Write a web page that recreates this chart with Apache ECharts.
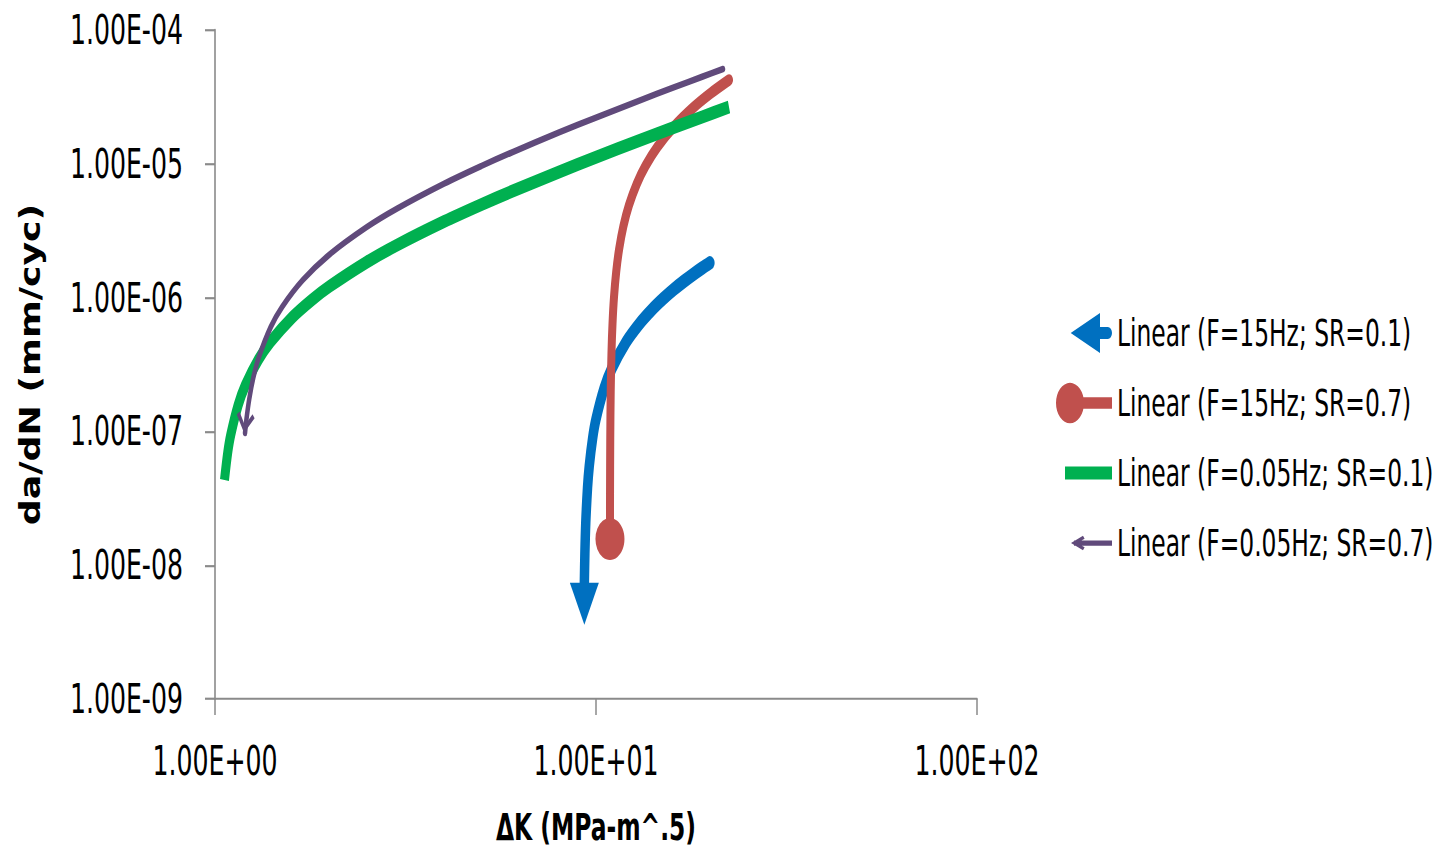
<!DOCTYPE html>
<html>
<head>
<meta charset="utf-8">
<title>da/dN vs ΔK</title>
<script src="https://cdn.jsdelivr.net/npm/echarts@6/dist/echarts.min.js"></script>
<style>
  html, body { margin: 0; padding: 0; background: #ffffff; overflow: hidden; }
  #wrap { width: 1436px; height: 850px; overflow: hidden; }
  /* the plot is laid out on a shorter canvas and stretched vertically */
  #chart { width: 1436px; height: 590px; transform-origin: 0 0; }
</style>
</head>
<body>
<div id="wrap"><div id="chart"></div></div>
<script>
// Crack growth rate curves (linear fits), log-log axes
const seriesNames = [
  'Linear (F=15Hz; SR=0.1)',
  'Linear (F=15Hz; SR=0.7)',
  'Linear (F=0.05Hz; SR=0.1)',
  'Linear (F=0.05Hz; SR=0.7)'
];

const dK_F15_SR01 = [9.32, 9.35, 9.4, 9.5, 9.6, 9.8, 10, 10.5, 11, 12, 13, 14, 15, 16, 17, 18, 19, 19.9];
const dadN_F15_SR01 = [7.4e-9, 1.22e-8, 2.07e-8, 3.78e-8, 5.50e-8, 8.92e-8, 1.234e-7, 2.09e-7, 2.95e-7, 4.66e-7, 6.37e-7, 8.08e-7, 9.79e-7, 1.151e-6, 1.322e-6, 1.493e-6, 1.664e-6, 1.818e-6];

const dK_F15_SR07 = [10.88, 10.885, 10.9, 10.93, 10.98, 11.05, 11.15, 11.3, 11.5, 11.8, 12.2, 12.8, 13.5, 14.5, 16, 18, 20, 22.34];
const dadN_F15_SR07 = [1.57e-8, 3.42e-8, 8.95e-8, 2.00e-7, 3.85e-7, 6.43e-7, 1.012e-6, 1.566e-6, 2.303e-6, 3.411e-6, 4.886e-6, 7.10e-6, 9.68e-6, 1.337e-5, 1.891e-5, 2.629e-5, 3.367e-5, 4.23e-5];

const dK_F005_SR01 = [1.059, 1.08, 1.1, 1.15, 1.2, 1.3, 1.4, 1.6, 1.8, 2, 2.5, 3, 4, 5, 6, 8, 10, 13, 16, 19, 22.34];
const dadN_F005_SR01 = [4.33e-8, 6.95e-8, 9.44e-8, 1.568e-7, 2.191e-7, 3.437e-7, 4.684e-7, 7.177e-7, 9.67e-7, 1.216e-6, 1.840e-6, 2.463e-6, 3.709e-6, 4.956e-6, 6.203e-6, 8.696e-6, 1.1189e-5, 1.4929e-5, 1.8669e-5, 2.2408e-5, 2.6572e-5];

const dK_F005_SR07 = [1.199, 1.21, 1.23, 1.26, 1.3, 1.4, 1.5, 1.7, 2, 2.5, 3, 4, 5, 6, 8, 10, 13, 16, 19, 21.54];
const dadN_F005_SR07 = [9.73e-8, 1.249e-7, 1.750e-7, 2.503e-7, 3.506e-7, 6.013e-7, 8.52e-7, 1.3535e-6, 2.1057e-6, 3.3594e-6, 4.6131e-6, 7.1205e-6, 9.6279e-6, 1.2135e-5, 1.715e-5, 2.2165e-5, 2.9687e-5, 3.7209e-5, 4.4732e-5, 5.1101e-5];

const xTickLabels = ['1.00E+00', '1.00E+01', '1.00E+02'];
const yTickLabels = ['1.00E-09', '1.00E-08', '1.00E-07', '1.00E-06', '1.00E-05', '1.00E-04'];

const colors = ['#0070C0', '#C0504D', '#00B050', '#604A7B'];

// vertical stretch of the whole figure
const H = 590;
const S = 850 / H;
document.getElementById('chart').style.transform = 'scaleY(' + S + ')';

const FONT = "'DejaVu Sans Condensed', 'Liberation Sans Narrow', 'DejaVu Sans', sans-serif";

function zip(xs, ys) { return xs.map((x, i) => [x, ys[i]]); }

// legend icons, drawn in a 56 x 30.6 box (tiny corner marks pin the box)
const BOX = 'M0 0 L0.01 0 L0 0.01 Z M56 30.6 L55.99 30.6 L56 30.59 Z ';
const legendIcons = [
  'path://' + BOX + 'M14.7 15.3 L44 1.4 L44 11.15 L51.85 11.15 A4.15 4.15 0 0 1 51.85 19.45 L44 19.45 L44 29.2 Z',
  'path://' + BOX + 'M0 15.3 A14 14 0 1 1 28 15.3 A14 14 0 1 1 0 15.3 Z M14 11.3 L56 11.3 L56 19.3 L14 19.3 Z',
  'path://' + BOX + 'M9 10.8 L56 10.8 L56 19.8 L9 19.8 Z',
  'path://' + BOX + 'M15 15.3 L27 10.3 L28.6 12.4 L20.8 15.3 L28.6 18.2 L27 20.3 Z M18 13.5 L56 13.5 L56 17.1 L18 17.1 Z'
];

const lineData = [
  zip(dK_F15_SR01, dadN_F15_SR01),
  zip(dK_F15_SR07, dadN_F15_SR07),
  zip(dK_F005_SR01, dadN_F005_SR01),
  zip(dK_F005_SR07, dadN_F005_SR07)
];
const lineWidths = [9.5, 8, 9, 4.5];
const lineCaps = ['round', 'round', 'butt', 'round'];

const chart = echarts.init(document.getElementById('chart'), null, { renderer: 'svg', width: 1436, height: H });

const axisColor = '#8a8a8a';

const series = lineData.map((d, i) => ({
  name: seriesNames[i],
  type: 'line',
  data: d,
  smooth: 0.3,
  symbol: 'none',
  showSymbol: false,
  silent: true,
  color: colors[i],
  lineStyle: { color: colors[i], width: lineWidths[i], cap: lineCaps[i], join: 'round', opacity: 1 },
  z: 2 + i * 0.01
}));

// start-of-line markers
series.push({
  name: 'start-15-01', type: 'scatter', silent: true, clip: false, z: 5,
  data: [lineData[0][0]],
  symbol: 'triangle', symbolSize: [29, 42 / S], symbolRotate: 180, symbolOffset: [0, 21 / S],
  itemStyle: { color: colors[0], opacity: 1 }
});
series.push({
  name: 'start-15-07', type: 'scatter', silent: true, clip: false, z: 5,
  data: [lineData[1][0]],
  symbol: 'circle', symbolSize: [29, 42 / S],
  itemStyle: { color: colors[1], opacity: 1 }
});
series.push({
  name: 'start-005-07', type: 'scatter', silent: true, clip: false, z: 5,
  data: [lineData[3][0]],
  symbol: 'path://M0 2.4 L2.4 0 L9 8.6 L15.6 0 L18 2.4 L9 14 Z',
  symbolKeepAspect: false,
  symbolSize: [18, 14], symbolRotate: -8, symbolOffset: [0, -7],
  itemStyle: { color: colors[3], opacity: 1 }
});

chart.setOption({
  animation: false,
  backgroundColor: '#ffffff',
  grid: {
    left: 215, top: 30 / S, width: 762, height: 669 / S,
    containLabel: false,
    outerBoundsMode: 'none'
  },
  legend: {
    orient: 'vertical',
    left: 1056,
    top: 311 / S,
    padding: 0,
    itemWidth: 56,
    itemHeight: 30.6,
    itemGap: 70 / S - 30.6,
    symbolKeepAspect: true,
    selectedMode: false,
    textStyle: { fontFamily: FONT, fontSize: 26, color: '#000000', lineHeight: 30 },
    data: seriesNames.map((n, i) => ({
      name: n,
      icon: legendIcons[i],
      itemStyle: { color: colors[i], borderWidth: 0, opacity: 1 }
    }))
  },
  xAxis: {
    type: 'log',
    logBase: 10,
    min: 1,
    max: 100,
    splitNumber: 2,
    name: 'ΔK (MPa-m^.5)',
    nameLocation: 'middle',
    nameGap: 76,
    nameMoveOverlap: false,
    nameTextStyle: { fontFamily: FONT, fontSize: 26, fontWeight: 'bold', color: '#000000' },
    axisLine: { show: true, lineStyle: { color: axisColor, width: 1.5 } },
    axisTick: { show: true, length: 16 / S, lineStyle: { color: axisColor, width: 1.5 } },
    minorTick: { show: false },
    splitLine: { show: false },
    axisLabel: {
      margin: 43,
      verticalAlign: 'middle',
      fontFamily: FONT, fontSize: 28, color: '#000000',
      showMinLabel: true, showMaxLabel: true,
      formatter: v => xTickLabels[Math.round(Math.log10(v))]
    }
  },
  yAxis: {
    type: 'log',
    logBase: 10,
    min: 1e-9,
    max: 1e-4,
    splitNumber: 5,
    name: 'da/dN (mm/cyc)',
    nameLocation: 'middle',
    nameGap: 171,
    nameMoveOverlap: false,
    nameTextStyle: { fontFamily: FONT, fontSize: 28, fontWeight: 'bold', color: '#000000' },
    axisLine: { show: true, lineStyle: { color: axisColor, width: 1.6 } },
    axisTick: { show: true, length: 10, lineStyle: { color: axisColor, width: 1.5 } },
    minorTick: { show: false },
    splitLine: { show: false },
    axisLabel: {
      margin: 32,
      fontFamily: FONT, fontSize: 28, color: '#000000',
      showMinLabel: true, showMaxLabel: true,
      formatter: v => yTickLabels[Math.round(Math.log10(v)) + 9]
    }
  },
  series: series
});
</script>
</body>
</html>
